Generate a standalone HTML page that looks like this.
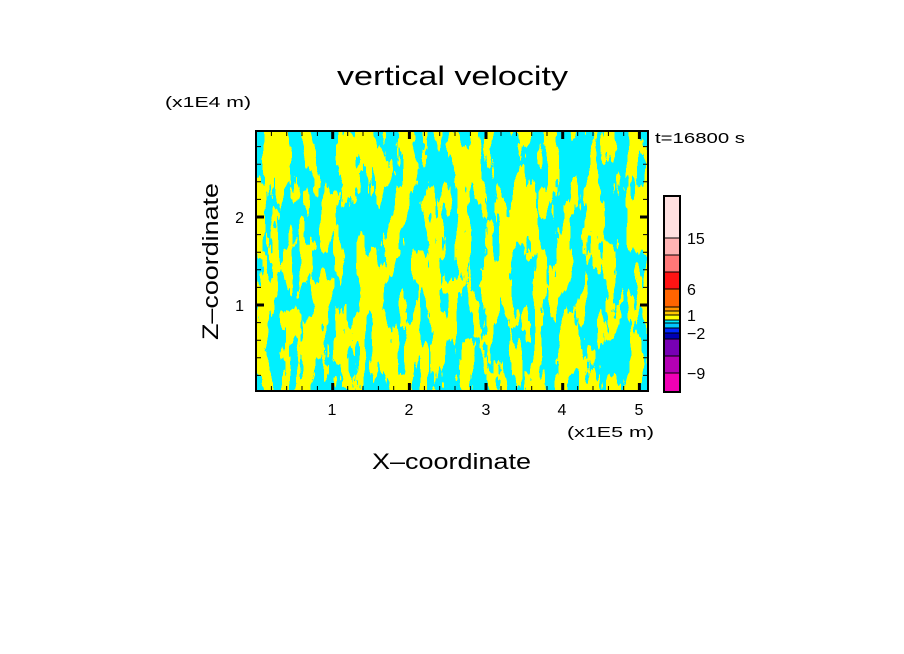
<!DOCTYPE html>
<html><head><meta charset="utf-8"><style>
body{margin:0;background:#fff;}
svg{display:block;font-family:"Liberation Sans",sans-serif;}
</style></head><body>
<svg width="904" height="654" viewBox="0 0 904 654" xmlns="http://www.w3.org/2000/svg">
<defs>
<filter id="f" x="0" y="0" width="100%" height="100%">
<feTurbulence type="fractalNoise" baseFrequency="0.07 0.016" numOctaves="4" seed="11" result="n"/>
<feColorMatrix in="n" type="matrix" values="0 0 0 0 1  0 0 0 0 1  0 0 0 0 0  1.6 0 0 0 -0.3" result="a"/>
<feComponentTransfer in="a"><feFuncA type="discrete" tableValues="0 1"/></feComponentTransfer>
</filter>
<clipPath id="c"><rect x="256" y="131" width="392" height="260"/></clipPath>
</defs>
<text x="337" y="85" font-size="27" textLength="231" lengthAdjust="spacingAndGlyphs">vertical velocity</text>
<text x="165" y="107" font-size="15" textLength="86" lengthAdjust="spacingAndGlyphs">(x1E4 m)</text>
<text x="655" y="143" font-size="15" textLength="90" lengthAdjust="spacingAndGlyphs">t=16800 s</text>
<g clip-path="url(#c)">
<rect x="256" y="131" width="392" height="260" fill="#00f0ff"/>
<rect x="256" y="131" width="392" height="260" fill="#ffff00" filter="url(#f)"/>
</g>
<rect x="256" y="131" width="392" height="260" fill="none" stroke="#000" stroke-width="2"/>
<g stroke="#000" stroke-width="1">
<path d="M271.4 131v5M286.7 131v5M302 131v5M317.4 131v5M347.7 131v5M363 131v5M378.4 131v5M393.7 131v5M424.4 131v5M439.7 131v5M455 131v5M470.4 131v5M501 131v5M516.4 131v5M531.7 131v5M547 131v5M577.7 131v5M593 131v5M608.4 131v5M623.7 131v5
M271.4 391v-5M286.7 391v-5M302 391v-5M317.4 391v-5M347.7 391v-5M363 391v-5M378.4 391v-5M393.7 391v-5M424.4 391v-5M439.7 391v-5M455 391v-5M470.4 391v-5M501 391v-5M516.4 391v-5M531.7 391v-5M547 391v-5M577.7 391v-5M593 391v-5M608.4 391v-5M623.7 391v-5
M256 375.4h5M256 357.8h5M256 340.2h5M256 322.6h5M256 287.4h5M256 269.8h5M256 252.2h5M256 234.6h5M256 199.4h5M256 181.8h5M256 164.2h5M256 146.6h5
M648 375.4h-5M648 357.8h-5M648 340.2h-5M648 322.6h-5M648 287.4h-5M648 269.8h-5M648 252.2h-5M648 234.6h-5M648 199.4h-5M648 181.8h-5M648 164.2h-5M648 146.6h-5"/>
</g>
<g stroke="#000" stroke-width="3">
<path d="M332.7 131v8M409.4 131v8M486 131v8M562.7 131v8M639.4 131v8M332.7 391v-8M409.4 391v-8M486 391v-8M562.7 391v-8M639.4 391v-8M256 305h8M256 217h8M648 305h-8M648 217h-8"/>
</g>
<g font-size="16" text-anchor="middle">
<text x="332" y="415">1</text><text x="409" y="415">2</text><text x="486" y="415">3</text><text x="562" y="415">4</text><text x="639" y="415">5</text>
</g>
<g font-size="16" text-anchor="end"><text x="244" y="311">1</text><text x="244" y="223">2</text></g>
<text x="567" y="437" font-size="15" textLength="87" lengthAdjust="spacingAndGlyphs">(x1E5 m)</text>
<text x="372" y="469" font-size="22" textLength="159" lengthAdjust="spacingAndGlyphs">X–coordinate</text>
<text transform="translate(218,340) rotate(-90)" font-size="22" textLength="157" lengthAdjust="spacingAndGlyphs">Z–coordinate</text>
<g>
<rect x="664" y="196" width="16" height="42" fill="#ffe0e0"/>
<rect x="664" y="238" width="16" height="17" fill="#ffb4b4"/>
<rect x="664" y="255" width="16" height="17" fill="#ff7878"/>
<rect x="664" y="272" width="16" height="17" fill="#ff1414"/>
<rect x="664" y="289" width="16" height="18" fill="#ff6400"/>
<rect x="664" y="307" width="16" height="4" fill="#ff9600"/>
<rect x="664" y="311" width="16" height="4" fill="#ffc800"/>
<rect x="664" y="315" width="16" height="5" fill="#ffff00"/>
<rect x="664" y="320" width="16" height="3" fill="#00f0ff"/>
<rect x="664" y="323" width="16" height="5" fill="#00c8ff"/>
<rect x="664" y="328" width="16" height="5" fill="#0028ff"/>
<rect x="664" y="333" width="16" height="6" fill="#0000b4"/>
<rect x="664" y="339" width="16" height="17" fill="#7800b4"/>
<rect x="664" y="356" width="16" height="17" fill="#b400b4"/>
<rect x="664" y="373" width="16" height="19" fill="#f000b4"/>
<rect x="664" y="196" width="16" height="196" fill="none" stroke="#000" stroke-width="2"/>
<path d="M664 238h16M664 255h16M664 272h16M664 289h16M664 307h16M664 311h16M664 315h16M664 320h16M664 323h16M664 328h16M664 333h16M664 339h16M664 356h16M664 373h16" stroke="#000" stroke-width="1"/>
</g>
<g font-size="16">
<text x="687" y="244">15</text><text x="687" y="295">6</text><text x="687" y="321">1</text><text x="687" y="339">−2</text><text x="687" y="379">−9</text>
</g>
</svg>
</body></html>
